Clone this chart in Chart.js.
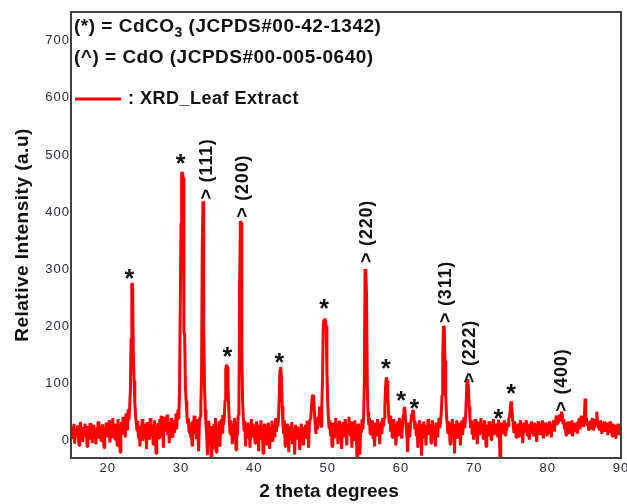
<!DOCTYPE html>
<html><head><meta charset="utf-8">
<script src="https://cdn.jsdelivr.net/npm/chart.js@4.4.1/dist/chart.umd.min.js"></script>
<style>html,body{margin:0;padding:0;background:#fff}#wrap{width:627px;height:504px;position:relative}</style>
</head><body><div id="wrap"><canvas id="c" width="627" height="504"></canvas></div>
<script>
// XRD scan: 2θ from 15.0° to 90.0° in 0.1° steps
const scanStart = 15.0;
const scanStep = 0.1;
const intensity = [
/*15*/ 12, 25, 3, 18, 30, -5, 14, 22, 8, 27,
/*16*/ 10, -8, 20, 33, 5, 16, -2, 24, 12, 30,
/*17*/ 7, 19, -10, 26, 14, 2, 31, 9, 21, -4,
/*18*/ 17, 28, 6, 13, -6, 23, 11, 34, 4, 18,
/*19*/ 26, 0, 15, 29, 8, -12, 20, 13, 32, 6,
/*20*/ 22, 10, 36, -3, 18, 27, 7, 40, 12, 24,
/*21*/ 3, 30, 16, -8, 38, 14, 25, -20, 19, 33,
/*22*/ 11, 42, 20, 28, 6, 48, 30, 18, 55, 36,
/*23*/ 58, 90, 180, 276, 272, 150, 105, 68, 45, 30,
/*24*/ 18, 35, 4, 26, -10, 22, 12, 38, 0, 20,
/*25*/ 30, 8, 24, -14, 33, 15, 27, 2, 40, 17,
/*26*/ 9, 28, -6, 21, 36, 11, -22, 25, 14, 31,
/*27*/ 5, 38, 19, 44, 8, 26, -12, 42, 16, 30,
/*28*/ 22, 46, 10, 33, -4, 28, 18, 40, 7, 24,
/*29*/ 36, 14, 30, 48, 20, 42, 55, 38, 90, 230,
/*30*/ 380, 470, 468, 460, 190, 185, 95, 70, 48, 30,
/*31*/ 40, 15, 32, 6, 26, -8, 35, 20, 44, 12,
/*32*/ 28, 3, 38, 18, -18, 30, 42, 60, 110, 340,
/*33*/ 419, 200, 98, 55, 30, 10, -25, 22, 35, 5,
/*34*/ 18, -28, 26, 12, -15, 30, 8, 40, -20, 16,
/*35*/ 25, 2, 34, -10, 20, 38, 14, 45, 28, 40,
/*36*/ 70, 125, 133, 130, 100, 60, 30, 12, 36, 20,
/*37*/ -6, 28, 15, 40, 22, -16, 33, 10, 45, 60,
/*38*/ 276, 384, 382, 150, 70, 40, 18, 35, -10, 24,
/*39*/ 12, 32, 4, 27, -12, 20, 38, 8, 30, 15,
/*40*/ 24, -4, 18, 34, 6, 22, -18, 28, 10, 36,
/*41*/ 2, 20, -22, 14, 30, 5, 25, -8, 18, 32,
/*42*/ 8, -14, 24, 12, 35, -2, 20, 28, 6, 40,
/*43*/ 16, 30, 25, 40, 80, 125, 129, 110, 60, 30,
/*44*/ 12, 36, -10, 24, 8, 30, 15, -20, 26, 4,
/*45*/ 18, 33, -6, 22, 10, -24, 28, 14, 2, 25,
/*46*/ 6, 20, -16, 12, 30, 0, 16, -8, 24, 10,
/*47*/ 28, 4, 35, 18, -12, 26, 38, 40, 60, 78,
/*48*/ 80, 75, 50, 30, 12, 34, 20, 42, 28, 60,
/*49*/ 38, 25, 60, 110, 200, 212, 214, 210, 200, 120,
/*50*/ 70, 40, 22, 36, 8, 28, -10, 32, 18, 4,
/*51*/ 26, 40, 12, 30, -6, 22, 35, 10, 28, -14,
/*52*/ 20, 33, 6, 25, 38, 14, -8, 30, 16, 42,
/*53*/ 24, 8, 34, -12, 20, 28, 2, 36, 18, 10,
/*54*/ -30, 22, 30, 6, -24, 26, 14, 38, 20, 40,
/*55*/ 100, 300, 296, 255, 100, 50, 28, 40, 12, 30,
/*56*/ 18, 36, 4, 26, -10, 32, 20, 8, 38, 14,
/*57*/ 28, -6, 22, 34, 12, 40, 25, 40, 60, 95,
/*58*/ 111, 105, 80, 50, 30, 44, 16, 32, 6, 24,
/*59*/ 38, 12, 28, -8, 20, 34, 10, 26, 40, 18,
/*60*/ 30, 4, 24, 45, 55, 59, 40, 25, 10, -20,
/*61*/ 18, 32, 6, 28, 40, 48, 54, 52, 35, 20,
/*62*/ 30, 8, 26, -12, 22, 36, 14, 30, -26, 20,
/*63*/ 12, 34, 4, 24, -8, 28, 16, 38, 10, 22,
/*64*/ 30, -4, 18, 36, 8, 26, 14, -10, 32, 20,
/*65*/ 6, 28, 40, 22, 36, 50, 80, 150, 201, 198,
/*66*/ 140, 80, 45, 30, 12, 34, 20, -6, 28, 16,
/*67*/ 38, 8, 24, -22, 30, 14, 36, 4, 26, 18,
/*68*/ 32, -8, 20, 36, 10, 28, 42, 22, 40, 70,
/*69*/ 105, 108, 90, 60, 40, 22, 36, 12, 30, 2,
/*70*/ 24, 38, 16, 28, -6, 22, 34, 10, 26, 40,
/*71*/ 14, 30, 4, 24, 36, 18, -10, 28, 20, 8,
/*72*/ 34, 16, 26, 2, 30, 22, 38, 12, 24, 30,
/*73*/ 18, 28, 6, 37, 20, -28, 24, 32, 14, 30,
/*74*/ 22, 36, 10, 28, 18, 32, 26, 40, 40, 55,
/*75*/ 69, 60, 40, 30, 14, 34, 20, 6, 28, 16,
/*76*/ 30, 8, 24, 36, 12, 26, -4, 22, 32, 14,
/*77*/ 24, 36, 10, 28, 18, 2, 30, 20, 34, 12,
/*78*/ 26, 8, 32, 18, 28, -2, 22, 34, 14, 24,
/*79*/ 10, 30, 20, 36, 4, 26, 16, 32, 22, 8,
/*80*/ 28, 18, 34, 12, 24, 6, 30, 22, 36, 16,
/*81*/ 28, 38, 44, 30, 40, 32, 46, 36, 42, 51,
/*82*/ 44, 30, 38, 20, 32, 10, 26, 18, 34, 22,
/*83*/ 12, 30, 24, 36, 8, 26, 18, 32, 20, 28,
/*84*/ 14, 34, 26, 40, 20, 30, 44, 28, 36, 24,
/*85*/ 38, 74, 30, 40, 26, 34, 18, 30, 22, 36,
/*86*/ 28, 40, 20, 32, 24, 38, 30, 51, 34, 22,
/*87*/ 30, 18, 36, 24, 12, 30, 20, 34, 16, 26,
/*88*/ 22, 32, 10, 28, 18, 34, 14, 26, 8, 30,
/*89*/ 20, 12, 28, 4, 24, 16, 30, 10, 22, 14,
/*90*/ 18
];
const xTickValues = [20, 30, 40, 50, 60, 70, 80, 90];
const yTickValues = [0, 100, 200, 300, 400, 500, 600, 700];

// CdCO3 peaks marked with "*"
const starAngles = [22.95, 29.96, 36.31, 43.4, 49.5, 57.92, 60.0, 61.82, 73.27, 75.0];
const starLevels = [292, 493, 155, 145, 240, 134, 78, 64, 47, 90];
// CdO reflections
const planeLabels = ['> (111)', '> (200)', '> (220)', '> (311)', '> (222)', '> (400)'];
const planeAngles = [33.5, 38.5, 55.32, 66.14, 69.41, 81.95];
const planeLevels = [422, 390, 311, 206, 101, 51];

const legendLine1 = ['(*) = CdCO', '3', ' (JCPDS#00-42-1342)'];
const legendLine2 = '(^) = CdO (JCPDS#00-005-0640)';
const seriesName = 'XRD_Leaf Extract';
const xTitle = '2 theta degrees';
const yTitle = 'Relative Intensity (a.u)';

const points = intensity.map((v, i) => ({ x: +(scanStart + i * scanStep).toFixed(1), y: v }));

const FONT = '"Liberation Sans", Arial, sans-serif';
const annot = {
  id: 'annot',
  beforeDraw(chart) { chart.ctx.letterSpacing = '1px'; },
  afterDatasetsDraw(chart) {
    const { ctx, chartArea: a, scales: { x, y } } = chart;
    ctx.save();
    ctx.letterSpacing = '0px';
    ctx.strokeStyle = '#404040';
    ctx.lineWidth = 2;
    ctx.strokeRect(a.left, a.top, a.right - a.left, a.bottom - a.top);

    ctx.fillStyle = '#111';
    // stars
    ctx.font = 'bold 25px ' + FONT;
    ctx.textAlign = 'center';
    ctx.textBaseline = 'alphabetic';
    const m = ctx.measureText('*');
    const off = (m.actualBoundingBoxAscent - m.actualBoundingBoxDescent) / 2;
    starAngles.forEach((t, i) => {
      ctx.fillText('*', x.getPixelForValue(t), y.getPixelForValue(starLevels[i]) + off);
    });
    // plane labels (rotated)
    ctx.font = 'bold 18px ' + FONT;
    ctx.letterSpacing = '0.8px';
    ctx.textAlign = 'left';
    ctx.textBaseline = 'middle';
    planeLabels.forEach((s, i) => {
      ctx.save();
      ctx.translate(x.getPixelForValue(planeAngles[i]), y.getPixelForValue(planeLevels[i]));
      ctx.rotate(-Math.PI / 2);
      ctx.fillText(s, 0, 0);
      ctx.restore();
    });
    // legend block
    ctx.letterSpacing = '0.5px';
    ctx.font = 'bold 19px ' + FONT;
    let px = 74;
    ctx.fillText(legendLine1[0], px, 27);
    px += ctx.measureText(legendLine1[0]).width;
    ctx.font = 'bold 14px ' + FONT;
    ctx.fillText(legendLine1[1], px, 33);
    px += ctx.measureText(legendLine1[1]).width;
    ctx.font = 'bold 19px ' + FONT;
    ctx.fillText(legendLine1[2], px, 27);
    ctx.fillText(legendLine2, 74, 58);
    ctx.strokeStyle = '#ff0000';
    ctx.lineWidth = 3;
    ctx.beginPath();
    ctx.moveTo(75, 99); ctx.lineTo(121, 99);
    ctx.stroke();
    ctx.font = 'bold 18px ' + FONT;
    ctx.fillText(': ' + seriesName, 128, 99);
    // axis titles
    ctx.font = 'bold 19px ' + FONT;
    ctx.letterSpacing = '0px';
    ctx.textAlign = 'center';
    ctx.fillText(xTitle, 329, 492);
    ctx.save();
    ctx.translate(23, 235);
    ctx.rotate(-Math.PI / 2);
    ctx.letterSpacing = '0.5px';
    ctx.fillText(yTitle, 0, 0);
    ctx.restore();
    ctx.restore();
  },
  afterDraw(chart) { chart.ctx.letterSpacing = '0px'; }
};

new Chart(document.getElementById('c'), {
  type: 'line',
  data: {
    datasets: [{
      label: seriesName,
      data: points,
      borderColor: '#ff0000',
      borderWidth: 3,
      borderJoinStyle: 'bevel',
      pointRadius: 0,
      tension: 0,
      fill: false
    }]
  },
  options: {
    responsive: false,
    animation: false,
    devicePixelRatio: 1,
    layout: { padding: { top: 12, right: 6, left: 0, bottom: 0 } },
    plugins: { legend: { display: false }, tooltip: { enabled: false } },
    scales: {
      x: {
        type: 'linear', min: 15, max: 90,
        grid: { display: false, drawTicks: false },
        border: { display: false },
        ticks: { font: { family: FONT, size: 13 }, color: '#2a2a35', padding: 3, maxRotation: 0 },
        afterBuildTicks(s) { s.ticks = xTickValues.map(v => ({ value: v })); },
        afterFit(s) { s.height = 46; s.paddingLeft = 0; s.paddingRight = 0; }
      },
      y: {
        type: 'linear', min: -30, max: 750,
        grid: { display: false, drawTicks: false },
        border: { display: false },
        ticks: { font: { family: FONT, size: 13 }, color: '#2a2a35', padding: 1 },
        afterBuildTicks(s) { s.ticks = yTickValues.map(v => ({ value: v })); },
        afterFit(s) { s.width = 71; s.paddingTop = 0; s.paddingBottom = 0; }
      }
    }
  },
  plugins: [annot]
});
</script>
</body></html>
